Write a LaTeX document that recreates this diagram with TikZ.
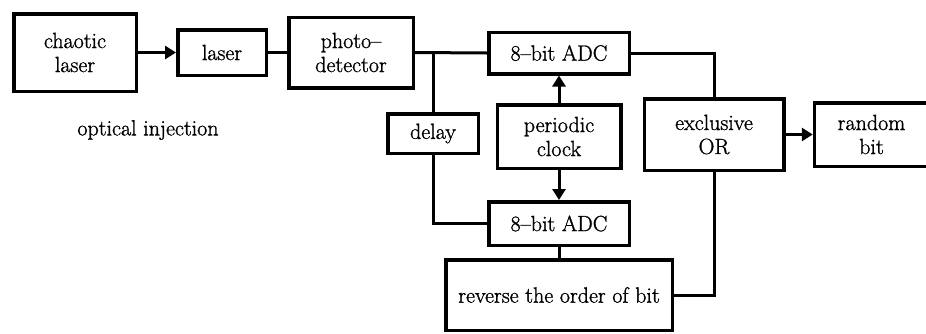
\documentclass[tikz,border=0pt]{standalone}
\usepackage{fontspec}
\usepackage{tikz}
\usetikzlibrary{arrows.meta}
\newfontfamily\blkfont{Latin Modern Roman}[FakeBold=1.2, Ligatures=TeX]

\begin{document}
\begin{tikzpicture}[x=1pt, y=-1pt,
    font=\blkfont\fontsize{22}{24}\selectfont,
    blk/.style={draw, line width=3.5pt, align=center, inner sep=0pt},
    wire/.style={line width=3pt},
    arr/.style={wire, -{Triangle[length=11pt, width=13pt]}}]

      % 画像の大きさ
      \useasboundingbox (0,0) rectangle (926,333);

      % 左側の光学部分
      \node[blk, minimum width=122.5pt, minimum height=77.5pt] (chaos) at (75,52.5) {chaotic\\laser};
      \node[blk, minimum width=88.5pt, minimum height=45.5pt] (laser) at (222,52.5) {laser};
      \node[blk, minimum width=124.5pt, minimum height=70.5pt] (pd) at (351,52.5) {photo--\\detector};
      \node (inj) at (148,130) {optical injection};

      % ADC と遅延
      \node[blk, minimum width=90.5pt, minimum height=39.5pt] (delay) at (433,133.5) {delay};
      \node[blk, minimum width=140.5pt, minimum height=41.5pt] (adcA) at (559,53) {8--bit ADC};
      \node[blk, minimum width=123.5pt, minimum height=63.5pt] (clock) at (559,136.5) {periodic\\clock};
      \node[blk, minimum width=140.5pt, minimum height=43.5pt] (adcB) at (559,223.5) {8--bit ADC};
      \node[blk, minimum width=226.5pt, minimum height=70.5pt] (rev) at (559,295) {reverse the order of bit};

      % 出力部分
      \node[blk, minimum width=139.5pt, minimum height=71.5pt] (xor) at (714,134.5) {exclusive\\OR};
      \node[blk, minimum width=130pt, minimum height=63.5pt, anchor=west] (rnd) at (812.75,134.5) {\hspace*{-16pt}random\\\hspace*{-16pt}bit};

      % 分岐点
      \coordinate (tap) at (433,52.5);
      \coordinate (bend) at (433,223.5);

      % 接続線
      \draw[arr] (chaos.east) -- (laser.west);
      \draw[wire] (laser.east) -- (pd.west);
      \draw[wire] (pd.east) -- (adcA.west);
      \draw[wire] (tap) -- (delay.north);
      \draw[wire] (delay.south) -- (bend) -- (adcB.west);
      \draw[arr] (clock.north) -- (adcA.south);
      \draw[arr] (clock.south) -- (adcB.north);
      \draw[wire] (adcB.south) -- (rev.north);
      \draw[wire] (adcA.east) -| (xor.north);
      \draw[wire] (rev.east) -| (xor.south);
      \draw[arr] (xor.east) -- (rnd.west);

    \end{tikzpicture}
\end{document}
